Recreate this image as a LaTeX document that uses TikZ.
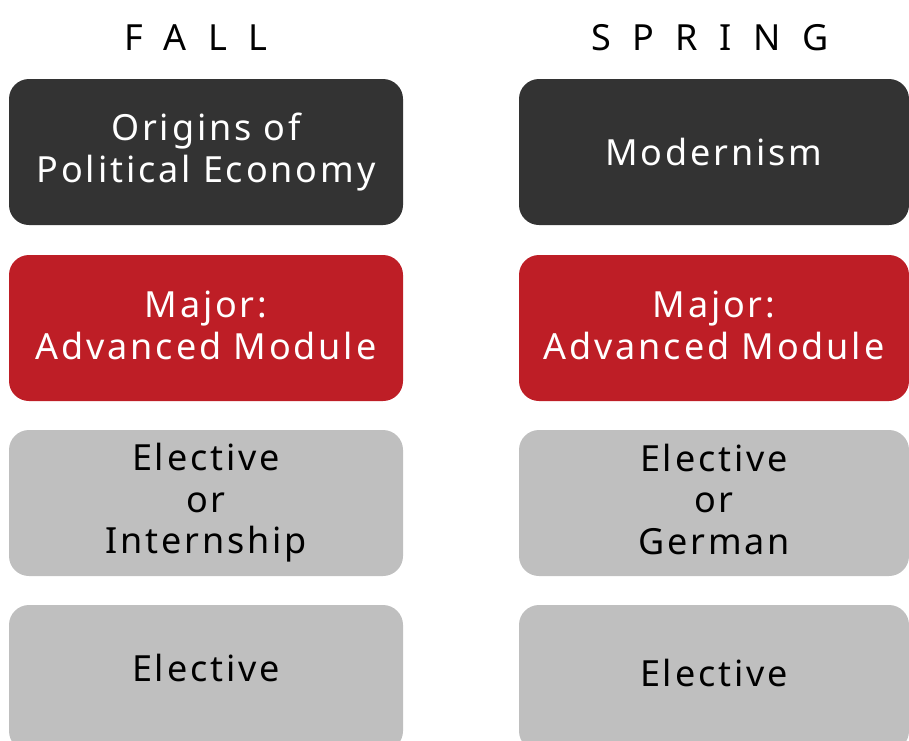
\documentclass[tikz,border=0pt]{standalone}
\usepackage{fontspec}
\setmainfont{Noto Sans}[LetterSpace=8]
\newfontfamily\titlefont{Noto Sans}[LetterSpace=60]
\usepackage{tikz}

\definecolor{darkbox}{RGB}{51,51,51}
\definecolor{redbox}{RGB}{190,30,38}
\definecolor{greybox}{RGB}{191,191,191}

\begin{document}
\begin{tikzpicture}[x=1pt,y=-1pt,
    box/.style={rounded corners=20pt, minimum width=394pt, minimum height=146pt,
      inner sep=0pt, align=center, font=\fontsize{36}{41.5}\selectfont},
    core/.style={box, fill=darkbox, text=white},
    major/.style={box, fill=redbox, text=white},
    elect/.style={box, fill=greybox, text=black},
    season/.style={font=\titlefont\fontsize{36}{40}\selectfont}]
      \useasboundingbox (0,0) rectangle (909,740);
      \clip (0,0) rectangle (909,740);

      %Titres
      \node[season] (Fall) at (196,38) {FALL};
      \node[season] (Spring) at (710,38) {SPRING};

      %Automne
      \node[core] (Fall1) at (206,152) {Origins of\\Political Economy};
      \node[major,text depth=6pt] (Fall2) at (206,328) {Major:\\Advanced Module};
      \node[elect] (Fall3) at (206,503) {Elective\\or\\Internship};
      \node[elect,text depth=20pt] (Fall4) at (206,678) {Elective};

      %Printemps
      \node[core,minimum width=390pt] (Spring1) at (714,152) {Modernism};
      \node[major,minimum width=390pt,text depth=6pt] (Spring2) at (714,328) {Major:\\Advanced Module};
      \node[elect,minimum width=390pt,text depth=8pt] (Spring3) at (714,503) {Elective\\or\\German};
      \node[elect,minimum width=390pt,text depth=10pt] (Spring4) at (714,678) {Elective};
\end{tikzpicture}
\end{document}
